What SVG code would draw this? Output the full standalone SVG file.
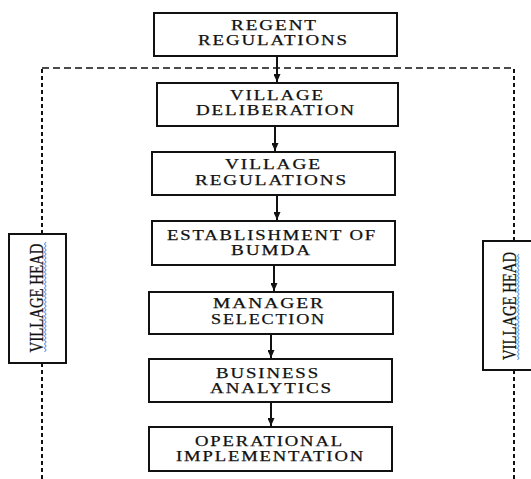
<svg xmlns="http://www.w3.org/2000/svg" width="531" height="479" viewBox="0 0 531 479">
<style>
.box{fill:#fff;stroke:#111;stroke-width:2}
.t{font-family:"Liberation Serif","Times New Roman",serif;font-size:15px;letter-spacing:1.5px;fill:#111;stroke:#111;stroke-width:0.25;text-anchor:middle}
.vt{font-family:"Liberation Serif","Times New Roman",serif;font-size:19px;fill:#111;stroke:#111;stroke-width:0.3;text-anchor:middle}
.conn{stroke:#111;stroke-width:2;fill:none}
.dh{stroke:#111;stroke-width:1.5;stroke-dasharray:7 4;fill:none}
.dv{stroke:#111;stroke-width:2;stroke-dasharray:4 3;fill:none}
.sq{stroke:#6f9fe6;stroke-width:1.2;fill:none}
</style>
<defs>
<marker id="ah" markerWidth="8" markerHeight="7" refX="8" refY="3.5" orient="auto" markerUnits="userSpaceOnUse">
<path d="M0,0 L8,3.5 L0,7 Z" fill="#111"/>
</marker>
</defs>
<rect width="531" height="479" fill="#fff"/>
<g id="frame">
<path class="dh" d="M42,68 H514"/>
<path class="dv" d="M42,69 V234 M42,363 V479"/>
<path class="dv" d="M514,69 V241 M514,370 V479"/>
</g>
<g id="connectors">
<path class="conn" d="M277,56 V82" marker-end="url(#ah)"/>
<path class="conn" d="M275,126 V151" marker-end="url(#ah)"/>
<path class="conn" d="M277,195 V220" marker-end="url(#ah)"/>
<path class="conn" d="M274,265 V291" marker-end="url(#ah)"/>
<path class="conn" d="M271,334 V358" marker-end="url(#ah)"/>
<path class="conn" d="M271,402 V426" marker-end="url(#ah)"/>
</g>
<g id="regent-regulations">
<rect class="box" x="154" y="13" width="243" height="43"/>
<text class="t" x="274.5" y="30" textLength="87" lengthAdjust="spacingAndGlyphs">REGENT</text>
<text class="t" x="273.5" y="45" textLength="151" lengthAdjust="spacingAndGlyphs">REGULATIONS</text>
</g>
<g id="village-deliberation">
<rect class="box" x="157" y="83" width="241" height="43"/>
<text class="t" x="277.5" y="100" textLength="95" lengthAdjust="spacingAndGlyphs">VILLAGE</text>
<text class="t" x="276" y="115" textLength="160" lengthAdjust="spacingAndGlyphs">DELIBERATION</text>
</g>
<g id="village-regulations">
<rect class="box" x="152" y="152" width="243" height="43"/>
<text class="t" x="273.5" y="169" textLength="97" lengthAdjust="spacingAndGlyphs">VILLAGE</text>
<text class="t" x="271.5" y="185" textLength="153" lengthAdjust="spacingAndGlyphs">REGULATIONS</text>
</g>
<g id="establishment-bumda">
<rect class="box" x="152" y="221" width="243" height="44"/>
<text class="t" x="272" y="240" textLength="210" lengthAdjust="spacingAndGlyphs">ESTABLISHMENT OF</text>
<text class="t" x="271.5" y="255" textLength="81" lengthAdjust="spacingAndGlyphs">BUMDA</text>
</g>
<g id="manager-selection">
<rect class="box" x="149" y="292" width="244" height="42"/>
<text class="t" x="269" y="308" textLength="112" lengthAdjust="spacingAndGlyphs">MANAGER</text>
<text class="t" x="268.5" y="324" textLength="115" lengthAdjust="spacingAndGlyphs">SELECTION</text>
</g>
<g id="business-analytics">
<rect class="box" x="149" y="359" width="243" height="43"/>
<text class="t" x="268" y="378" textLength="104" lengthAdjust="spacingAndGlyphs">BUSINESS</text>
<text class="t" x="271.5" y="393" textLength="123" lengthAdjust="spacingAndGlyphs">ANALYTICS</text>
</g>
<g id="operational-implementation">
<rect class="box" x="149" y="427" width="243" height="44"/>
<text class="t" x="269.5" y="446" textLength="149" lengthAdjust="spacingAndGlyphs">OPERATIONAL</text>
<text class="t" x="270.5" y="461" textLength="189" lengthAdjust="spacingAndGlyphs">IMPLEMENTATION</text>
</g>
<g id="village-head-left">
<rect class="box" x="9" y="234" width="57" height="129"/>
<text class="vt" transform="translate(43,298) rotate(-90)" textLength="109" lengthAdjust="spacingAndGlyphs">VILLAGE HEAD</text>
<path class="sq" d="M44.5,352 l1.5,-2 l-1.5,-2 l1.5,-2 l-1.5,-2 l1.5,-2 l-1.5,-2 l1.5,-2 l-1.5,-2 l1.5,-2 l-1.5,-2 l1.5,-2 l-1.5,-2 l1.5,-2 l-1.5,-2 l1.5,-2 l-1.5,-2 l1.5,-2 l-1.5,-2 l1.5,-2 l-1.5,-2 l1.5,-2 l-1.5,-2 l1.5,-2 l-1.5,-2 l1.5,-2 l-1.5,-2 l1.5,-2 l-1.5,-2 l1.5,-2 l-1.5,-2 l1.5,-2 l-1.5,-2 l1.5,-2 l-1.5,-2 l1.5,-2 l-1.5,-2 l1.5,-2 l-1.5,-2 l1.5,-2 l-1.5,-2 l1.5,-2 l-1.5,-2 l1.5,-2 l-1.5,-2 l1.5,-2 l-1.5,-2 l1.5,-2 l-1.5,-2 l1.5,-2 l-1.5,-2 l1.5,-2 l-1.5,-2 l1.5,-2 l-1.5,-2 l1.5,-2"/>
</g>
<g id="village-head-right">
<rect class="box" x="483" y="241" width="58" height="129"/>
<text class="vt" transform="translate(516,306) rotate(-90)" textLength="108" lengthAdjust="spacingAndGlyphs">VILLAGE HEAD</text>
<path class="sq" d="M517.5,360 l1.5,-2 l-1.5,-2 l1.5,-2 l-1.5,-2 l1.5,-2 l-1.5,-2 l1.5,-2 l-1.5,-2 l1.5,-2 l-1.5,-2 l1.5,-2 l-1.5,-2 l1.5,-2 l-1.5,-2 l1.5,-2 l-1.5,-2 l1.5,-2 l-1.5,-2 l1.5,-2 l-1.5,-2 l1.5,-2 l-1.5,-2 l1.5,-2 l-1.5,-2 l1.5,-2 l-1.5,-2 l1.5,-2 l-1.5,-2 l1.5,-2 l-1.5,-2 l1.5,-2 l-1.5,-2 l1.5,-2 l-1.5,-2 l1.5,-2 l-1.5,-2 l1.5,-2 l-1.5,-2 l1.5,-2 l-1.5,-2 l1.5,-2 l-1.5,-2 l1.5,-2 l-1.5,-2 l1.5,-2 l-1.5,-2 l1.5,-2 l-1.5,-2 l1.5,-2 l-1.5,-2 l1.5,-2 l-1.5,-2 l1.5,-2"/>
</g>
</svg>
